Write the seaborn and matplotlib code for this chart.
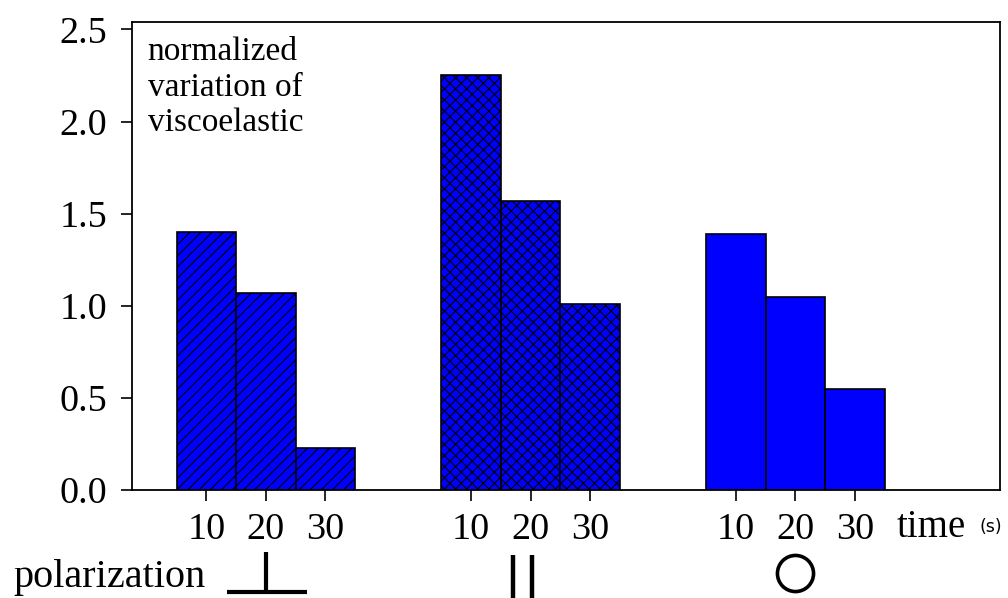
import numpy as np
import pandas as pd
import seaborn as sns
from matplotlib import pyplot as plt
from matplotlib import transforms

# Data
times = [10, 20, 30]
polarizations = ['perpendicular', 'parallel', 'circular']
perpendicular = [1.40, 1.07, 0.23]
parallel = [2.25, 1.57, 1.01]
circular = [1.39, 1.05, 0.55]
hatches = ['///', 'xxx', '']

sns.set_style('ticks')
plt.rcParams['font.family'] = ['Liberation Serif', 'DejaVu Serif']
plt.rcParams['hatch.linewidth'] = 0.8
for k in ['text.color', 'xtick.color', 'ytick.color', 'axes.edgecolor', 'axes.labelcolor']:
    plt.rcParams[k] = 'black'

# Build long table; bar positions come from group/time index
group_step = 4.45
rows = []
for g, (name, vals) in enumerate(zip(polarizations, [perpendicular, parallel, circular])):
    for t, (tm, v) in enumerate(zip(times, vals)):
        rows.append({'polarization': name, 'time': tm, 'value': v, 'pos': g * group_step + t})
df = pd.DataFrame(rows)

fig = plt.figure(figsize=(10.08, 5.98), dpi=100)
ax = fig.add_axes([0.131, 0.1806, 0.861, 0.7826])

sns.barplot(data=df, x='pos', y='value', native_scale=True, color='#0000ff',
            width=1, edgecolor='black', linewidth=1.2, errorbar=None,
            saturation=1, ax=ax)

# hatch each bar by polarization group
for patch, name in zip(ax.patches, df['polarization']):
    patch.set_hatch(hatches[polarizations.index(name)])
    patch.set_facecolor('#0000ff')

ax.set_xlim(-1.25, 13.34)
ax.set_ylim(0, 2.54)
ax.set_yticks(np.arange(0, 2.51, 0.5))
ax.set_yticklabels([f'{v:.1f}' for v in np.arange(0, 2.51, 0.5)])
ax.set_xticks(df['pos'])
ax.set_xticklabels([str(t) for t in df['time']])
ax.set_xlabel('')
ax.set_ylabel('')
ax.tick_params(axis='both', labelsize=27.5, length=8, width=1.2, direction='out',
               colors='black')
ax.tick_params(axis='x', pad=8)
ax.tick_params(axis='y', pad=10)
for s in ax.spines.values():
    s.set_linewidth(1.3)
    s.set_color('black')

ax.text(0.018, 0.968, 'normalized\nvariation of\nviscoelastic', transform=ax.transAxes,
        fontsize=24, va='top', ha='left', linespacing=1.2, color='black')

fig.text(0.89, 0.102, 'time', fontsize=28, va='baseline', ha='left')
fig.text(0.972, 0.11, '(s)', fontsize=12.5, va='baseline', ha='left',
         family='DejaVu Sans')
fig.text(0.013, 0.018, 'polarization', fontsize=29, va='baseline', ha='left')

# polarization symbols under each group's middle bar
trans = transforms.blended_transform_factory(ax.transData, ax.transAxes)
mid = [g * group_step + 1 for g in range(3)]
ax.plot([mid[0], mid[0]], [-0.132, -0.218], color='black', lw=3, transform=trans, clip_on=False,
        solid_capstyle='butt')
ax.plot([mid[0] - 0.655, mid[0] + 0.69], [-0.218, -0.218], color='black', lw=3, transform=trans,
        clip_on=False, solid_capstyle='butt')
for dx in (-0.29, 0.03):
    ax.plot([mid[1] + dx, mid[1] + dx], [-0.139, -0.25], color='black', lw=3.2, transform=trans,
            clip_on=False, solid_capstyle='butt')
ax.plot([mid[2]], [-0.177], marker='o', markersize=26, markerfacecolor='none',
        markeredgecolor='black', markeredgewidth=2.6, transform=trans, clip_on=False)

plt.savefig('out.png', dpi=100)
